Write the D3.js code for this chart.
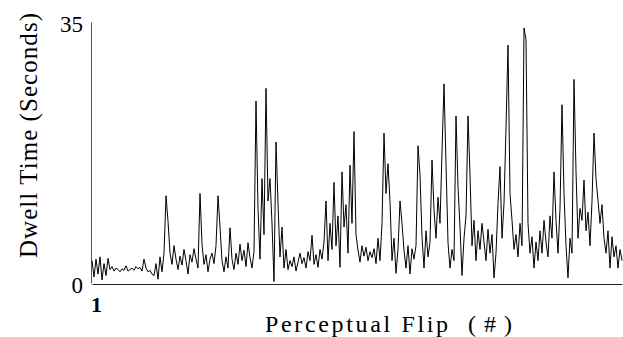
<!DOCTYPE html>
<html>
<head>
<meta charset="utf-8">
<script src="https://cdn.jsdelivr.net/npm/d3@7"></script>
<style>
  body { margin: 0; background: #fff; }
  text { font-family: "Liberation Serif", "Times New Roman", serif; fill: #000; }
</style>
</head>
<body>
<div id="chart"></div>
<script>
// dwell time per perceptual flip
const dwell = [
  3.0, 0.8, 3.2, 1.2, 3.5, 0.4, 2.6, 1.0, 3.3, 1.8,
  2.2, 1.6, 2.0, 1.8, 1.5, 1.9, 1.7, 2.3, 1.6, 1.8,
  2.0, 1.7, 2.2, 1.9, 2.1, 1.6, 3.2, 2.0, 1.5, 1.7,
  1.2, 1.0, 2.6, 0.5, 3.5, 1.5, 4.0, 11.7, 8.3, 4.0,
  2.5, 5.0, 3.2, 1.8, 3.6, 2.4, 4.5, 3.0, 1.2, 3.8,
  2.8, 4.6, 3.2, 2.0, 12.0, 5.2, 2.5, 3.8, 1.5, 3.2,
  4.0, 2.6, 5.0, 11.7, 7.5, 3.0, 1.5, 3.5, 2.0, 7.4,
  3.2, 1.8, 4.0, 2.5, 5.2, 3.0, 4.4, 2.2, 5.4, 3.4,
  2.0, 4.2, 24.4, 10.0, 3.2, 14.0, 6.5, 26.1, 11.0, 14.0,
  8.0, 0.2, 18.9, 10.7, 3.5, 7.5, 2.0, 4.5, 1.8, 3.0,
  2.2, 3.5, 1.6, 2.8, 4.0, 2.6, 3.4, 2.0, 4.2, 3.0,
  6.4, 2.5, 3.8, 2.1, 4.5, 3.2, 5.5, 11.0, 3.0, 8.0,
  4.5, 13.5, 5.0, 9.0, 2.1, 14.9, 7.5, 10.5, 4.0, 15.8,
  8.0, 20.3, 6.5, 4.4, 2.8, 5.0, 3.6, 4.8, 3.0, 4.2,
  3.4, 4.6, 2.6, 6.0, 3.0, 8.0, 20.1, 12.0, 16.0, 10.9,
  3.0, 6.0, 1.3, 4.5, 11.0, 8.0, 4.4, 2.0, 5.0, 1.2,
  4.6, 3.2, 5.0, 18.4, 14.5, 6.2, 2.0, 7.0, 3.5, 5.5,
  16.5, 9.8, 6.0, 11.5, 8.0, 17.6, 26.7, 16.0, 5.4, 2.0,
  4.5, 3.0, 22.4, 12.9, 7.5, 1.0, 6.0, 9.0, 22.4, 14.5,
  5.0, 8.4, 3.0, 7.0, 4.5, 8.0, 5.5, 3.0, 7.2, 4.0,
  6.5, 0.7, 4.0, 10.7, 15.6, 6.0, 10.7, 20.8, 31.9, 12.0,
  8.4, 4.5, 6.5, 3.5, 8.0, 5.0, 34.2, 32.6, 8.0, 4.0,
  6.2, 2.0, 5.5, 3.0, 7.0, 4.0, 8.4, 5.5, 3.5, 9.0,
  6.0, 14.9, 8.4, 4.0, 10.0, 23.9, 12.0, 5.0, 0.7, 6.0,
  4.0, 27.3, 15.0, 6.0, 10.0, 8.4, 13.8, 7.0, 9.5, 5.0,
  11.0, 20.1, 14.0, 11.1, 8.0, 10.5, 6.0, 4.0, 7.0, 2.0,
  6.2, 3.5, 5.0, 2.0, 4.5, 3.0
]
const flips = dwell.map((d, i) => i + 1)
const yTicks = [0, 35]
const xTicks = [1]
// x title pieces, each stretched to the width it has in the figure
const xTitle = [
  { word: 'Perceptual Flip', at: 265, len: 183 },
  { word: '(#)', at: 468, len: 44 }
]

const width = 623
const height = 337
const margin = { top: 22, right: 1, bottom: 53, left: 91 }

const svg = d3.select('#chart')
  .append('svg')
  .attr('width', width)
  .attr('height', height)

const x = d3.scaleLinear()
  .domain([1, flips.length])
  .range([margin.left + 1, width - margin.right])

const y = d3.scaleLinear()
  .domain([0, 35])
  .range([height - margin.bottom - 1, margin.top])

// axes: plain lines with the two end labels only
const yAxis = svg.append('g')
  .attr('transform', 'translate(' + margin.left + ',0)')
  .call(d3.axisLeft(y).tickValues(yTicks).tickSize(0).tickPadding(8))
yAxis.select('.domain').attr('stroke', '#555')
yAxis.selectAll('text')
  .attr('dy', '0.42em')
  .style('font-size', '23px')
  .style('font-family', '"Liberation Serif", serif')

const xAxis = svg.append('g')
  .attr('transform', 'translate(0,' + (height - margin.bottom) + ')')
  .call(d3.axisBottom(x).tickValues(xTicks).tickSize(0).tickPadding(12).tickFormat(d3.format('d')))
xAxis.select('.domain').attr('stroke', '#222')
xAxis.selectAll('text')
  .attr('dx', '4px')
  .style('font-size', '22px')
  .style('font-weight', 'bold')
  .style('font-family', '"Liberation Serif", serif')

// the series
const line = d3.line()
  .x((d, i) => x(flips[i]))
  .y(d => y(d))

svg.append('path')
  .datum(dwell)
  .attr('fill', 'none')
  .attr('stroke', '#000')
  .attr('stroke-width', 1)
  .attr('d', line)

// axis titles
svg.append('text')
  .attr('transform', 'translate(37,135.5) rotate(-90)')
  .attr('text-anchor', 'middle')
  .attr('textLength', 245)
  .attr('lengthAdjust', 'spacing')
  .style('font-size', '25px')
  .text('Dwell Time (Seconds)')

svg.append('text')
  .attr('y', 332)
  .style('font-size', '24px')
  .selectAll('tspan')
  .data(xTitle)
  .enter()
  .append('tspan')
  .attr('x', d => d.at)
  .attr('textLength', d => d.len)
  .attr('lengthAdjust', 'spacing')
  .text(d => d.word)
</script>
</body>
</html>
